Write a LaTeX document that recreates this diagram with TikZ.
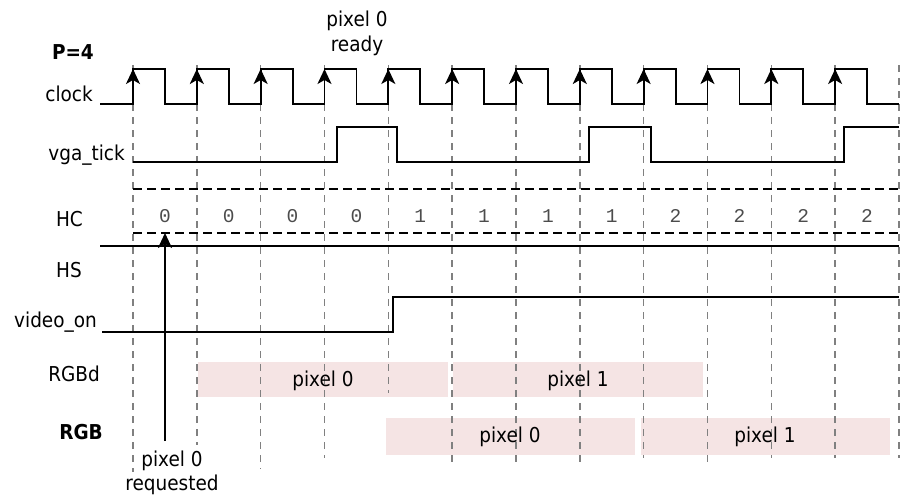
\documentclass[tikz,border=0pt]{standalone}
\usepackage{fontspec}
\setmainfont{DejaVu Sans Condensed}
\setmonofont{Liberation Mono}
\usetikzlibrary{arrows.meta}
\definecolor{barfill}{RGB}{245,228,228}
\definecolor{gridgray}{RGB}{128,128,128}
\begin{document}
\begin{tikzpicture}[x=1pt,y=-1pt,
  font=\fontsize{20.5}{25}\selectfont,
  wave/.style={line width=1.8pt},
  gridline/.style={gridgray, line width=1.6pt, dash pattern=on 7pt off 6pt},
  hcline/.style={black, line width=1.5pt, dash pattern=on 9pt off 5pt},
  bar/.style={fill=barfill, draw=none},
  lbl/.style={anchor=base east, inner sep=0pt},
  txt/.style={anchor=base, inner sep=0pt, align=center},
  hcval/.style={inner sep=0pt, text=black!70, font=\fontsize{19.5}{22}\selectfont\ttfamily},
  edgearrow/.style={-{Stealth[length=15pt,width=14pt,inset=4pt]}, line width=1.8pt}]
\useasboundingbox (0,0) rectangle (908,496);

% data bars
\fill[bar] (198,362) rectangle (448,397);
\fill[bar] (453,362) rectangle (703,397);
\fill[bar] (386,418) rectangle (635,455);
\fill[bar] (641,418) rectangle (890,455);

% clock-edge grid
\foreach \i/\e in {0/472,1/445,2/469,3/458,4/393,5/467,6/467,7/466,8/458,9/467,10/458,11/458,12/458}
  \draw[gridline] ({133+\i*63.83},65) -- ({133+\i*63.83},\e);

% signal names
\node[lbl] (p4) at (94,59) {\textbf{P=4}};
\node[lbl] (lclk) at (93,101) {clock};
\node[lbl] (ltick) at (125,160) {vga\_tick};
\node[lbl] (lhc) at (83,226) {HC};
\node[lbl] (lhs) at (82,277) {HS};
\node[lbl] (lvid) at (97,327) {video\_on};
\node[lbl] (lrgbd) at (100,381) {RGBd};
\node[lbl] (lrgb) at (103,439) {\textbf{RGB}};

% clock
\draw[wave] (100,104)
  foreach \i in {0,...,11} {
    -- ({133+\i*63.83},104) -- ({133+\i*63.83},69)
    -- ({165+\i*63.83},69) -- ({165+\i*63.83},104) }
  -- (899,104);
\foreach \i in {0,...,11}
  \draw[edgearrow] ({133+\i*63.83},96) -- ({133+\i*63.83},69);

% vga_tick
\draw[wave] (133,162) -- (337,162) -- (337,127) -- (397,127) -- (397,162)
  -- (589,162) -- (589,127) -- (651,127) -- (651,162)
  -- (844,162) -- (844,127) -- (899,127);

% HC bus
\draw[hcline] (133,189) -- (899,189);
\draw[hcline] (133,233) -- (899,233);
\foreach \i/\v in {0/0,1/0,2/0,3/0,4/1,5/1,6/1,7/1,8/2,9/2,10/2,11/2}
  \node[hcval] (hc\i) at ({133+(\i+0.5)*63.83},216) {\v};

% HS
\draw[wave] (100,246) -- (899,246);

% video_on
\draw[wave] (102,332) -- (393,332) -- (393,297) -- (899,297);

% bar labels
\node[txt] (d0) at (323,386) {pixel 0};
\node[txt] (d1) at (578,386) {pixel 1};
\node[txt] (r0) at (510,442) {pixel 0};
\node[txt] (r1) at (765,442) {pixel 1};

% annotations (multi-line nodes sit on their last baseline)
\node[txt, font=\fontsize{20.5}{25.5}\selectfont] (ready) at (357,51.5) {pixel 0\\ready};
\node[txt, font=\fontsize{20.5}{24}\selectfont] (req) at (172,490) {pixel 0\\requested};
\coordinate (reqfoot) at (165,441);
\coordinate (hcreq) at (165,233);
\draw[edgearrow] (reqfoot) -- (hcreq);
\end{tikzpicture}
\end{document}
